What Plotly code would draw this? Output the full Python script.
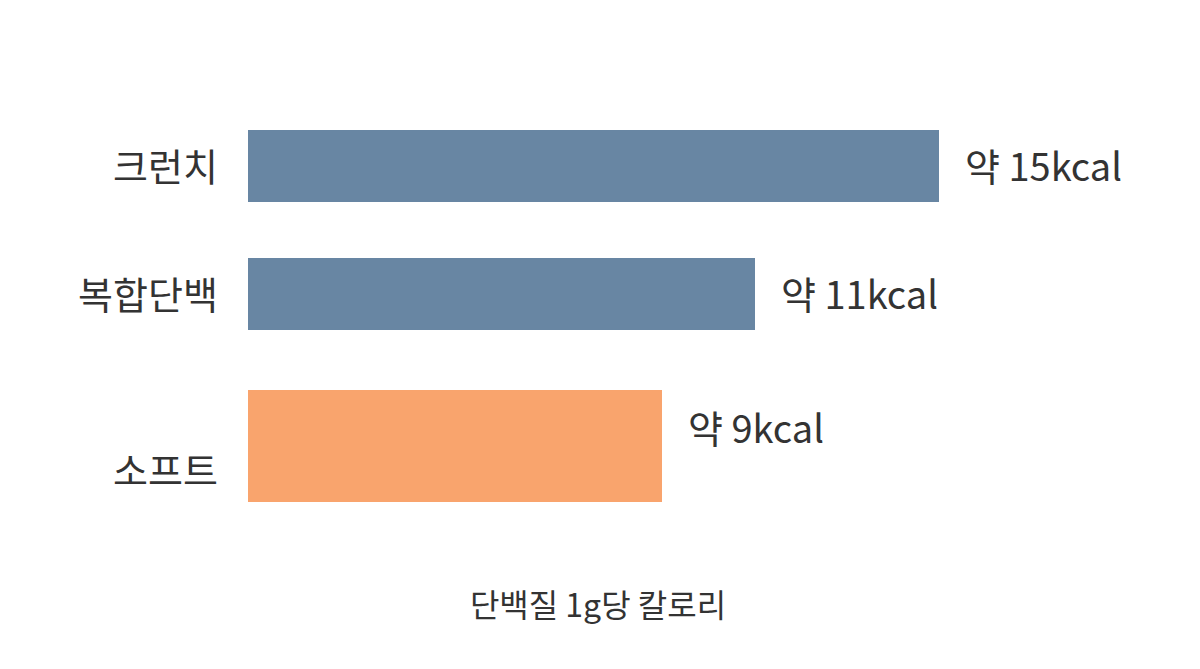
import plotly.graph_objects as go

categories = ["크런치", "복합단백", "소프트"]
values = [15, 11, 9]
value_labels = ["약 15kcal", "약 11kcal", "약 9kcal"]
x_title = "단백질 1g당 칼로리"

colors = ["#6886A3", "#6886A3", "#F9A46D"]
widths = [0.57, 0.57, 0.875]
offsets = [-0.285, -0.285, -0.25]
label_shift = [2, 2, -46]
value_shift = [2, 2, -4]

font_family = "Noto Sans CJK KR"
text_color = "#333333"

fig = go.Figure()
fig.add_trace(go.Bar(
    y=categories, x=values, orientation="h",
    marker=dict(color=colors, line=dict(width=0)),
    width=widths, offset=offsets,
    hoverinfo="skip",
))

for cat, v, lab, s in zip(categories, values, value_labels, value_shift):
    fig.add_annotation(x=v, y=cat, text=lab, showarrow=False,
                       xanchor="left", yanchor="middle", xshift=24, yshift=s,
                       font=dict(family=font_family, size=38, color=text_color))

for cat, s in zip(categories, label_shift):
    fig.add_annotation(x=0, y=cat, xref="x", text=cat, showarrow=False,
                       xanchor="right", yanchor="middle", xshift=-28, yshift=s,
                       font=dict(family=font_family, size=38, color=text_color))

fig.update_layout(
    width=1192, height=661,
    margin=dict(l=240, r=252, t=94, b=119),
    paper_bgcolor="white", plot_bgcolor="white",
    showlegend=False,
    bargap=0,
    xaxis=dict(range=[0, 15.2], showgrid=False, zeroline=False, showline=False,
               showticklabels=False, ticks="",
               title=dict(text=x_title, standoff=44,
                          font=dict(family=font_family, size=32, color=text_color))),
    yaxis=dict(range=[3.0, -0.5], showgrid=False, zeroline=False, showline=False,
               showticklabels=False, ticks="", type="category"),
)

fig.write_html("out.html")
